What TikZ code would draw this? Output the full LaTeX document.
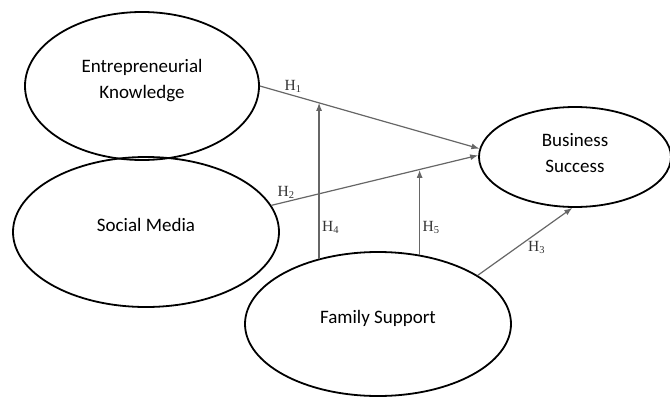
\documentclass[tikz,border=0pt]{standalone}
\usepackage{fontspec}
\setmainfont{Carlito}
\newfontfamily\hypfont{Liberation Serif}
\usetikzlibrary{shapes.geometric,arrows.meta}
\newcommand{\hyp}[1]{{\hypfont H\raisebox{-0.3ex}{\fontsize{10.5}{11}\selectfont #1}}}

\begin{document}
\begin{tikzpicture}[x=1pt,y=-1pt,>={Latex[length=8pt,width=6pt]},
    var_node/.style={ellipse,draw,line width=1.8pt,inner sep=0pt,align=center,font=\fontsize{19}{26}\selectfont,text depth=14pt},
    path_line/.style={->,draw=black!60,line width=1.2pt},
    hyp_label/.style={font=\fontsize{15.5}{16}\selectfont,inner sep=2.5pt,text=black!80}]
    \useasboundingbox (0,0) rectangle (670,397);

    \node[var_node,minimum width=234pt,minimum height=148pt] (ek) at (142,86) {Entrepreneurial\\Knowledge};
    \node[var_node,minimum width=266pt,minimum height=150pt] (sm) at (146,232) {Social Media};
    \node[var_node,minimum width=192pt,minimum height=100pt,text depth=8pt] (bs) at (575,157) {Business\\Success};
    \node[var_node,minimum width=266pt,minimum height=144pt] (fs) at (378,324) {Family Support};

    \draw[path_line] (ek.east) -- (bs.175) node[hyp_label,pos=0.15,above] {\hyp{1}} coordinate[pos=0.268] (m4);
    \draw[path_line] (sm.12) -- (bs.179) node[hyp_label,pos=0.07,above] {\hyp{2}} coordinate[pos=0.71] (m5);
    \draw[path_line] (fs.26) -- (bs.-93) node[hyp_label,pos=0.62,below=5pt] {\hyp{3}};
    \draw[path_line] (fs.132) -- (fs.132 |- m4) node[hyp_label,pos=0.2,right] {\hyp{4}};
    \draw[path_line] (fs.59) -- (fs.59 |- m5) node[hyp_label,pos=0.32,right] {\hyp{5}};
\end{tikzpicture}
\end{document}
